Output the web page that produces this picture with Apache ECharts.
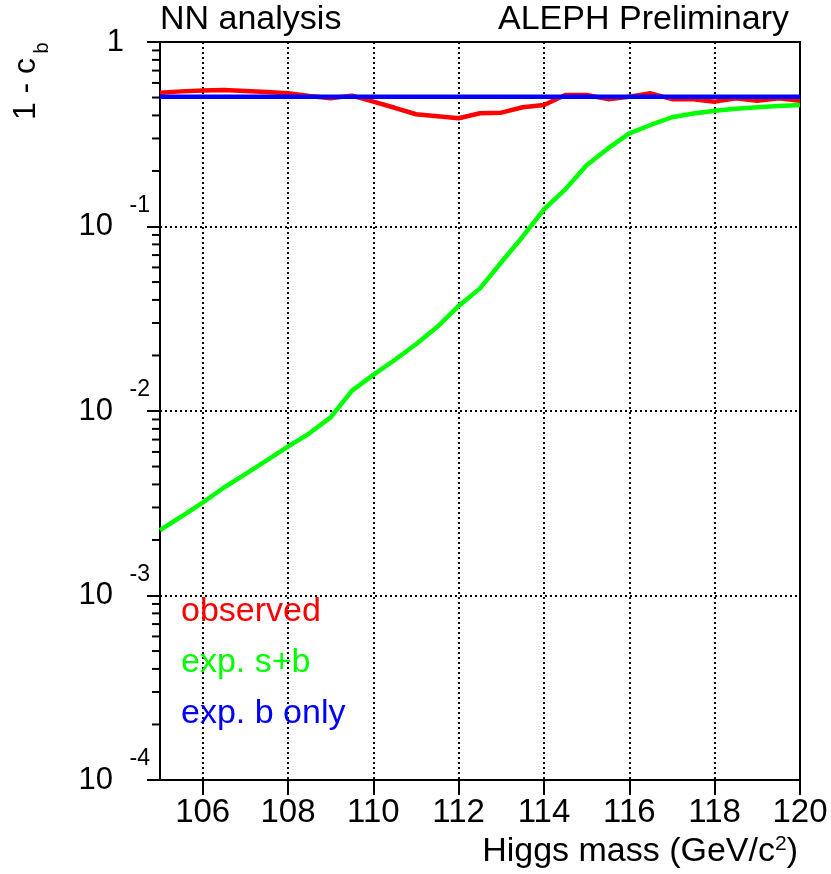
<!DOCTYPE html>
<html>
<head>
<meta charset="utf-8">
<script src="https://cdn.jsdelivr.net/npm/echarts@6.0.0/dist/echarts.min.js"></script>
<style>
  html, body { margin: 0; padding: 0; background: #fff; }
  #chart { width: 831px; height: 874px; }
</style>
</head>
<body>
<div id="chart"></div>
<script>
// Higgs mass scan points (GeV/c^2)
const massPoints = [105, 105.5, 106, 106.5, 107, 107.5, 108, 108.5, 109, 109.5, 110,
                    110.5, 111, 111.5, 112, 112.5, 113, 113.5, 114, 114.5, 115,
                    115.5, 116, 116.5, 117, 117.5, 118, 118.5, 119, 119.5, 120];
// 1 - c_b, observed
const observed = [0.531, 0.540, 0.546, 0.549, 0.543, 0.535, 0.527, 0.510, 0.495, 0.512, 0.475,
                  0.440, 0.406, 0.396, 0.386, 0.411, 0.414, 0.443, 0.456, 0.516, 0.516,
                  0.490, 0.505, 0.527, 0.490, 0.490, 0.475, 0.495, 0.480, 0.495, 0.480];
// 1 - c_b, expected signal+background
const expSB = [0.00226, 0.00268, 0.00319, 0.00385, 0.00455, 0.0054, 0.00641, 0.00757, 0.00924, 0.0129, 0.0157,
               0.0189, 0.023, 0.0286, 0.0371, 0.0462, 0.064, 0.088, 0.124, 0.159, 0.215,
               0.265, 0.320, 0.355, 0.391, 0.410, 0.424, 0.435, 0.443, 0.450, 0.456];
// 1 - c_b, expected background only
const expBMass = [105, 120];
const expBOnly = [0.505, 0.505];

const xTicks = [106, 108, 110, 112, 114, 116, 118, 120];
const minorMantissas = [2, 3, 4, 5, 6, 7, 8, 9];
const decades = [-4, -3, -2, -1];

const FONT = '"Liberation Sans", Arial, Helvetica, sans-serif';

function pairs(xs, ys) {
    return xs.map(function (x, i) { return [x, ys[i]]; });
}

// minor tick values on the log axis
const minorTickValues = [];
decades.forEach(function (d) {
    minorMantissas.forEach(function (m) {
        minorTickValues.push([105, m * Math.pow(10, d)]);
    });
});

const chart = echarts.init(document.getElementById('chart'), null, {renderer: 'canvas'});

chart.setOption({
    animation: false,
    backgroundColor: '#fff',
    title: [
        {text: 'NN analysis', left: 155, top: -2,
         textStyle: {fontFamily: FONT, fontSize: 34, fontWeight: 'normal', color: '#000'}},
        {text: 'ALEPH Preliminary', right: 37, top: -2,
         textStyle: {fontFamily: FONT, fontSize: 34, fontWeight: 'normal', color: '#000'}}
    ],
    legend: {
        orient: 'vertical',
        left: 171,
        top: 590,
        icon: 'none',
        itemWidth: 0,
        itemGap: 17,
        textStyle: {fontFamily: FONT, fontSize: 34},
        data: [
            {name: 'observed', textStyle: {color: '#ff0000'}},
            {name: 'exp. s+b', textStyle: {color: '#00ff00'}},
            {name: 'exp. b only', textStyle: {color: '#0000ff'}}
        ]
    },
    grid: {
        left: 160, right: 31, top: 42, bottom: 94,
        show: true, borderColor: '#000', borderWidth: 2,
        containLabel: false, outerBoundsMode: 'none'
    },
    xAxis: {
        type: 'value',
        min: 105, max: 120,
        splitNumber: 7,
        axisLine: {lineStyle: {color: '#000', width: 2}},
        axisTick: {length: 15, lineStyle: {color: '#000', width: 2}, customValues: xTicks},
        axisLabel: {
            customValues: xTicks,
            fontFamily: FONT, fontSize: 33, color: '#000', margin: 16
        },
        splitLine: {show: true, lineStyle: {color: '#000', width: 2, type: [2, 3]}}
    },
    yAxis: {
        type: 'log',
        logBase: 10,
        min: 1e-4, max: 1,
        axisLine: {lineStyle: {color: '#000', width: 2}},
        axisTick: {length: 13, lineStyle: {color: '#000', width: 2}},
        axisLabel: {
            margin: 10,
            color: '#000',
            formatter: function (v) {
                const e = Math.round(Math.log10(v));
                if (e === 0) return '{one|1}{sp1| }';
                return '{ex|' + e + '}\n{ten|10}{sp| }\n{ex| }';
            },
            rich: {
                ex: {fontFamily: FONT, fontSize: 23, lineHeight: 20, color: '#000'},
                ten: {fontFamily: FONT, fontSize: 31, lineHeight: 22, color: '#000'},
                one: {fontFamily: FONT, fontSize: 31, color: '#000'},
                sp: {width: 37},
                sp1: {width: 26}
            }
        },
        splitLine: {show: true, lineStyle: {color: '#000', width: 2, type: [2, 3]}}
    },
    graphic: [
        {
            // y axis title "1 - c" with subscript b
            type: 'text', x: 26, y: 89, rotation: Math.PI / 2,
            style: {
                text: '1 - c', font: '32px ' + FONT, fill: '#000',
                align: 'center', verticalAlign: 'middle'
            }
        },
        {
            type: 'text', x: 42, y: 48, rotation: Math.PI / 2,
            style: {
                text: 'b', font: '20px ' + FONT, fill: '#000',
                align: 'center', verticalAlign: 'middle'
            }
        },
        {
            type: 'text', x: 798, y: 852,
            style: {
                text: '{t|Higgs mass (GeV/c}{p|2}{t|)}',
                align: 'right', verticalAlign: 'middle',
                rich: {
                    t: {fontFamily: FONT, fontSize: 34, lineHeight: 36, fill: '#000', color: '#000'},
                    p: {fontFamily: FONT, fontSize: 21, lineHeight: 20, verticalAlign: 'top',
                        fill: '#000', color: '#000'}
                }
            }
        }
    ],
    series: [
        {
            name: 'observed', type: 'line', showSymbol: false,
            data: pairs(massPoints, observed),
            lineStyle: {color: '#ff0000', width: 4.5}, itemStyle: {color: '#ff0000'}
        },
        {
            name: 'exp. s+b', type: 'line', showSymbol: false,
            data: pairs(massPoints, expSB),
            lineStyle: {color: '#00ff00', width: 4.5}, itemStyle: {color: '#00ff00'}
        },
        {
            name: 'exp. b only', type: 'line', showSymbol: false,
            data: pairs(expBMass, expBOnly),
            lineStyle: {color: '#0000ff', width: 4.5}, itemStyle: {color: '#0000ff'}
        },
        {
            // minor ticks of the log axis
            type: 'custom', silent: true, clip: false, z: 5,
            data: minorTickValues,
            encode: {x: 0, y: 1},
            renderItem: function (params, api) {
                const p = api.coord([api.value(0), api.value(1)]);
                return {
                    type: 'line',
                    shape: {x1: p[0] - 8, y1: p[1], x2: p[0], y2: p[1]},
                    style: {stroke: '#000', lineWidth: 2}
                };
            }
        }
    ]
});
</script>
</body>
</html>
